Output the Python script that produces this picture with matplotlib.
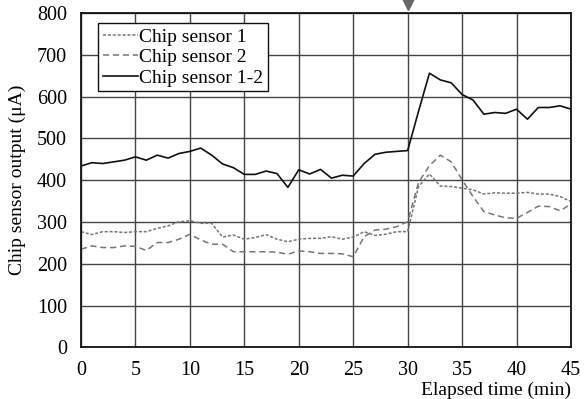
import matplotlib
matplotlib.use("Agg")
import matplotlib.pyplot as plt

plt.rcParams['font.family'] = ['Liberation Serif', 'DejaVu Serif']
plt.rcParams['mathtext.fontset'] = 'stix'

# Elapsed time (min)
time = list(range(0, 46))

sensor1 = [277, 270, 277, 277, 275, 277, 277, 285, 291, 301,
           303, 297, 297, 264, 269, 259, 263, 270, 259, 253,
           259, 261, 261, 265, 259, 264, 277, 268, 271, 277,
           277, 385, 415, 386, 385, 381, 377, 367, 370, 369,
           369, 371, 367, 367, 361, 349]

sensor2 = [235, 243, 239, 239, 243, 242, 232, 251, 251, 259,
           271, 257, 247, 247, 229, 229, 229, 229, 228, 223,
           231, 229, 225, 225, 224, 217, 265, 281, 283, 289,
           301, 395, 435, 460, 444, 401, 361, 325, 317, 310,
           309, 323, 338, 337, 327, 343]

sensor12 = [434, 442, 440, 444, 448, 456, 448, 460, 453, 464,
            469, 477, 460, 439, 430, 414, 414, 422, 416, 383,
            425, 415, 426, 405, 412, 410, 440, 462, 467, 469,
            471, 565, 656, 640, 633, 605, 592, 558, 562, 560,
            570, 546, 574, 574, 578, 570]

x_ticks = [0, 5, 10, 15, 20, 25, 30, 35, 40, 45]
y_ticks = [0, 100, 200, 300, 400, 500, 600, 700, 800]
event_time = 30

fig = plt.figure(figsize=(5.86, 3.99), dpi=100)
ax = fig.add_axes([0.1382, 0.1291, 0.8362, 0.8383])

ax.plot(time, sensor1, color='#777777', lw=1.1, linestyle=(0, (2.0, 1.2)),
        label='Chip sensor 1')
ax.plot(time, sensor2, color='#777777', lw=1.1, linestyle=(0, (4.0, 2.5)),
        label='Chip sensor 2')
ax.plot(time, sensor12, color='#111111', lw=1.2, label='Chip sensor 1-2')

ax.set_xlim(0, 45)
ax.set_ylim(0, 800)
ax.set_xticks(x_ticks)
ax.set_yticks(y_ticks)
ax.grid(True, color='#444444', lw=1.0)
ax.set_axisbelow(True)
ax.tick_params(length=0, labelsize=14.5, pad=10)
for s in ax.spines.values():
    s.set_color('#111111')
    s.set_linewidth(1.3)

ax.set_ylabel('Chip sensor output (μA)', fontsize=14, labelpad=8)
ax.set_xlabel('Elapsed time (min)', fontsize=14, loc='right', labelpad=1)

# Event marker above the plot area
ax.plot([event_time], [828], marker='v', markersize=13, color='#666666',
        clip_on=False, zorder=5)

leg = ax.legend(loc='upper left', bbox_to_anchor=(0.034, 0.97), fontsize=14,
                frameon=True, fancybox=False, handlelength=1.8,
                handletextpad=0.1, borderpad=0.25, labelspacing=0.15,
                borderaxespad=0)
leg.get_frame().set_edgecolor('#111111')
leg.get_frame().set_linewidth(1.0)
leg.get_frame().set_alpha(1)

fig.savefig('out.png', dpi=100)
